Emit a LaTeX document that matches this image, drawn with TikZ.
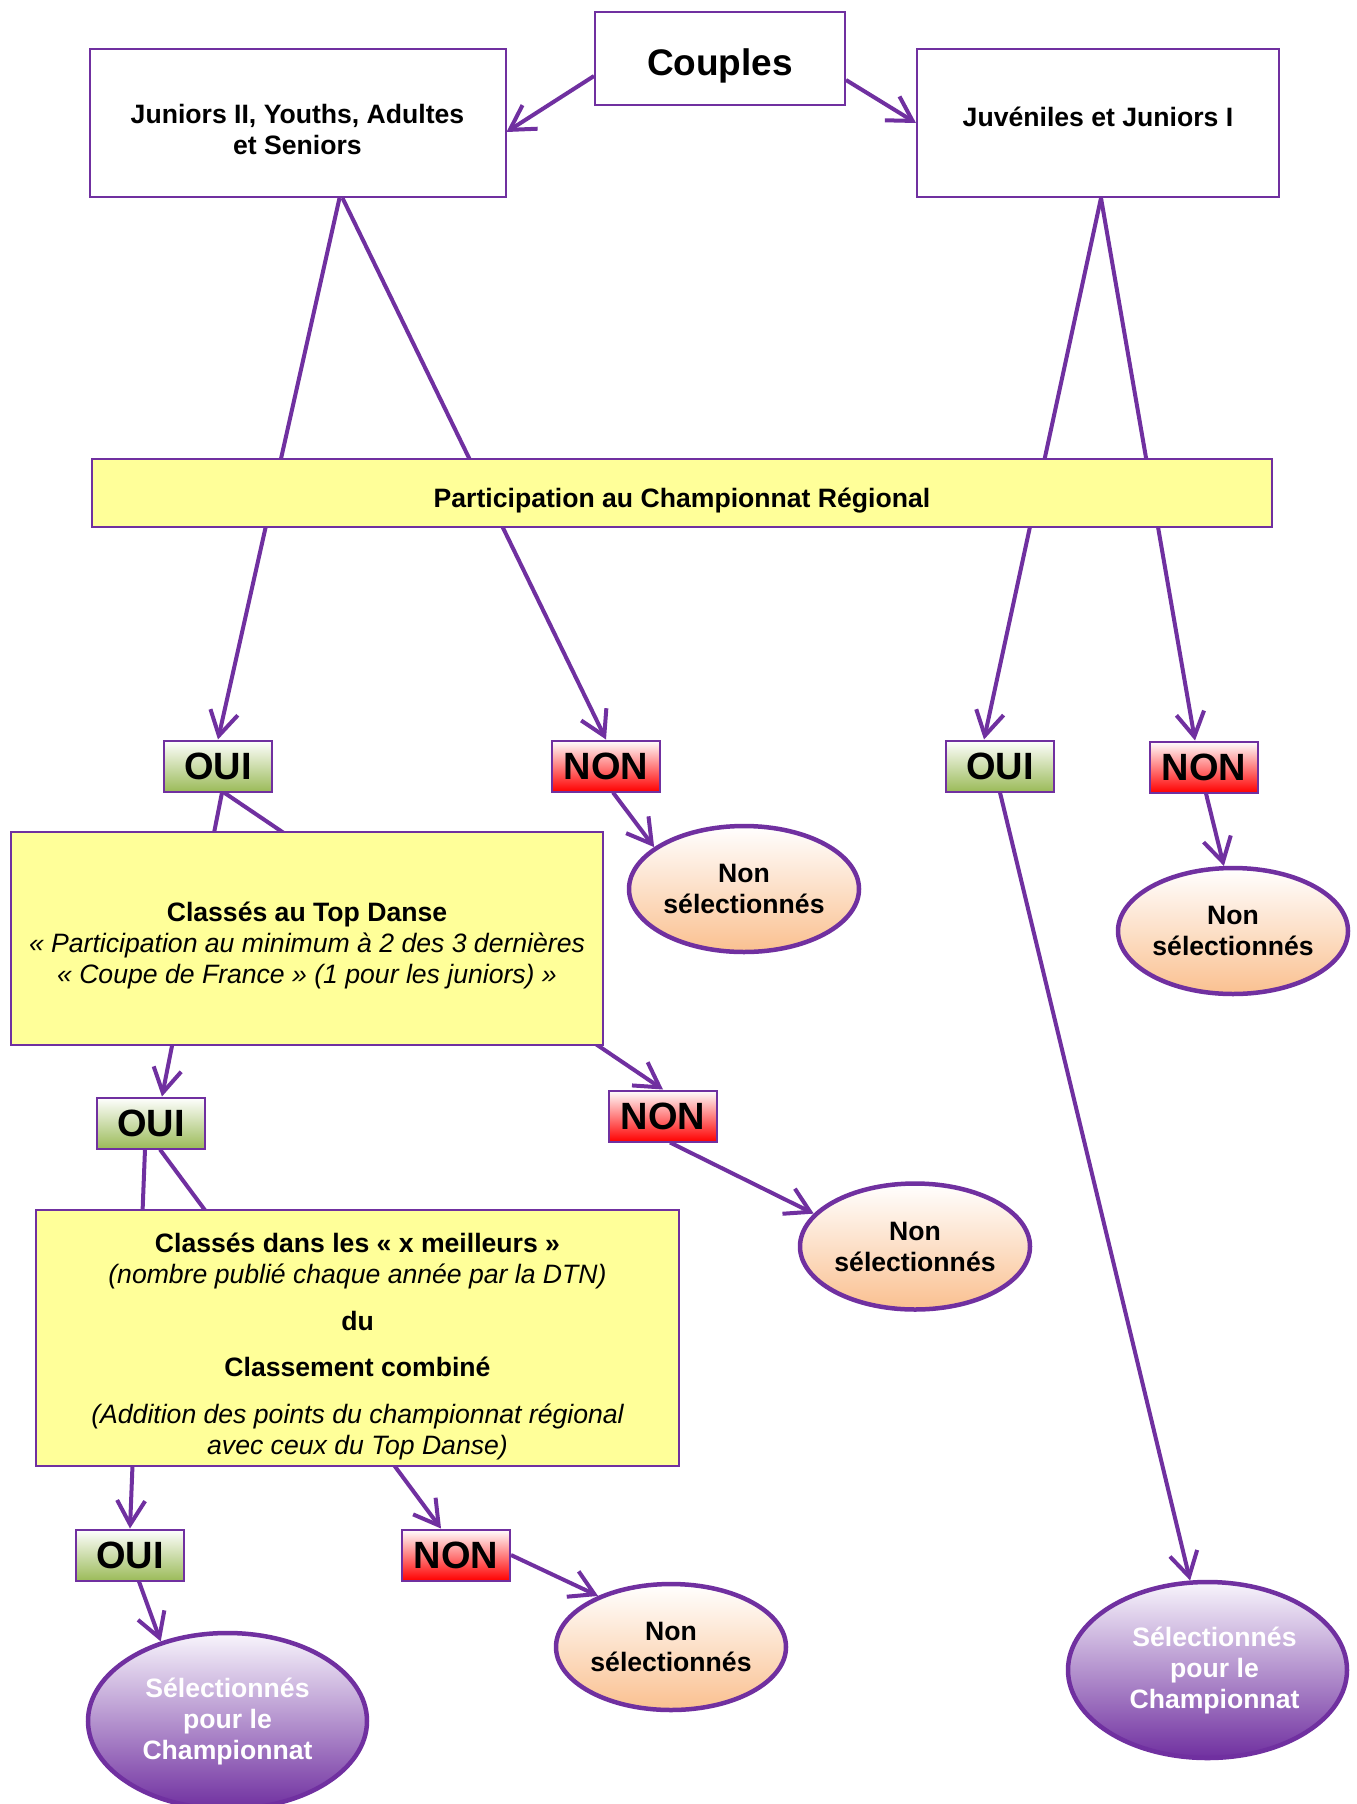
\documentclass[tikz,border=0pt]{standalone}
\usepackage{fontspec}
\setmainfont{Liberation Sans}
\usetikzlibrary{arrows.meta,shapes.geometric}
\pgfdeclarelayer{bg}
\pgfsetlayers{bg,main}
\definecolor{vio}{RGB}{112,48,160}
\definecolor{yel}{RGB}{255,255,153}
\definecolor{ogreen}{RGB}{155,187,89}
\definecolor{ored}{RGB}{255,0,0}
\definecolor{peach}{RGB}{250,192,144}
\definecolor{selTop}{RGB}{248,245,252}
\newcommand{\fsBody}{\fontsize{26.6}{31}\selectfont\bfseries}
\newcommand{\fsBig}{\fontsize{38}{42}\selectfont\bfseries}
\newcommand{\fsHuge}{\fontsize{37}{42}\selectfont\bfseries}
\newcommand{\itl}[1]{{\itshape\mdseries #1}}
\begin{document}
\begin{tikzpicture}[x=1pt,y=-1pt,
 box/.style={draw=vio,line width=2pt,fill=white,inner sep=0pt},
 ybox/.style={box,fill=yel},
 txt/.style={align=center,inner sep=0pt,font=\fsBody},
 ouibox/.style={draw=vio,line width=2pt,top color=white,bottom color=ogreen,minimum width=108pt,minimum height=51pt,inner sep=0pt,font=\fsBig},
 nonbox/.style={draw=vio,line width=2pt,top color=white,bottom color=ored,minimum width=108pt,minimum height=51pt,inner sep=0pt,font=\fsBig},
 nsel/.style={ellipse,draw=vio,line width=4.5pt,top color=white,bottom color=peach,minimum width=230pt,minimum height=126pt,inner sep=0pt,align=center,font=\fsBody},
 selb/.style={ellipse,draw=vio,line width=4.5pt,top color=selTop,bottom color=vio,minimum width=279pt,minimum height=176pt,inner sep=0pt,align=center,text=white,font=\fsBody},
 conn/.style={draw=vio,line width=4pt,-{Straight Barb[length=24pt,width=28pt]}}
]
\begin{pgfonlayer}{bg}
\fill[white] (0,0) rectangle (1357,1804);
\end{pgfonlayer}
\useasboundingbox (0,0) rectangle (1357,1804);

\node[box,minimum width=250pt,minimum height=93pt] (couples) at (720,58) {};
\node[txt,font=\fsHuge] (couplesT) at ([yshift=-8pt]couples.center) {Couples};
\node[box,minimum width=416pt,minimum height=148pt] (jun) at (297.5,123) {};
\node[txt] (junT) at ([yshift=-6pt]jun.center) {Juniors II, Youths, Adultes\\et Seniors};
\node[box,minimum width=362pt,minimum height=148pt] (juv) at (1098,123) {};
\node[txt] (juvT) at ([yshift=6pt]juv.center) {Juvéniles et Juniors I};
\node[ybox,minimum width=1180pt,minimum height=68pt] (part) at (682,493) {};
\node[txt] (partT) at ([yshift=-8pt]part.center) {Participation au Championnat Régional};
\node[ouibox] (oui1) at (218,766) {OUI};
\node[nonbox] (non1) at (606,766) {NON};
\node[ouibox] (oui2) at (1000,766) {OUI};
\node[nonbox] (non2) at (1204,767) {NON};
\node[nsel] (ns1) at (744,889) {Non\\sélectionnés};
\node[nsel] (ns2) at (1233,931) {Non\\sélectionnés};
\node[ybox,minimum width=592pt,minimum height=213pt] (top) at (307,938.5) {};
\node[txt] (topT) at ([yshift=-7pt]top.center) {Classés au Top Danse\\\itl{« Participation au minimum à 2 des 3 dernières}\\\itl{« Coupe de France » (1 pour les juniors) »}};
\node[ouibox] (oui3) at (151,1123) {OUI};
\node[nonbox] (non3) at (663,1116) {NON};
\node[nsel] (ns3) at (915,1246.5) {Non\\sélectionnés};
\node[ybox,minimum width=643pt,minimum height=256pt] (xm) at (357.5,1338) {};
\node[txt] (xmT) at ([yshift=-8pt]xm.center) {Classés dans les « x meilleurs »\\\itl{(nombre publié chaque année par la DTN)}\\[16pt]du\\[15pt]Classement combiné\\[16pt]\itl{(Addition des points du championnat régional}\\\itl{avec ceux du Top Danse)}};
\node[ouibox] (oui4) at (130,1555) {OUI};
\node[nonbox] (non4) at (456,1555) {NON};
\node[nsel] (ns4) at (671,1647) {Non\\sélectionnés};
\node[selb] (sel1) at (227.5,1721) {Sélectionnés\\pour le\\Championnat};
\node[selb] (sel2) at (1207.5,1670) {};
\node[txt,text=white] (sel2T) at ([xshift=7pt]sel2.center) {Sélectionnés\\pour le\\Championnat};

\begin{pgfonlayer}{bg}
\draw[conn] ([xshift=42pt]jun.south) -- (oui1.north);
\draw[conn] ([xshift=45pt]jun.south) -- (non1.north);
\draw[conn] ([xshift=3pt]juv.south) -- ([xshift=-16pt]oui2.north);
\draw[conn] ([xshift=3pt]juv.south) -- ([xshift=-9pt]non2.north);
\draw[conn] ([xshift=4pt]oui1.south) -- ([xshift=11pt]oui3.north);
\draw[conn] ([xshift=6pt]oui1.south) -- (non3.north);
\draw[conn] ([xshift=-6pt]oui3.south) -- (oui4.north);
\draw[conn] ([xshift=9pt]oui3.south) -- ([xshift=-15pt]non4.north);
\end{pgfonlayer}

\draw[conn] ([yshift=-18pt]couples.west) -- ([yshift=-9pt]jun.east);
\draw[conn] ([yshift=-22pt]couples.east) -- (juv.west);
\draw[conn] ([xshift=7pt]non1.south) -- (ns1.155);
\draw[conn] ([xshift=2pt]non2.south) -- (ns2.98);
\draw[conn] ([xshift=7pt]non3.south) -- (ns3.162);
\draw[conn] ([xshift=9pt]oui4.south) -- (sel1.130);
\draw[conn] (non4.east) -- (ns4.145);
\draw[conn] (oui2.south) -- (sel2.101);
\end{tikzpicture}
\end{document}
